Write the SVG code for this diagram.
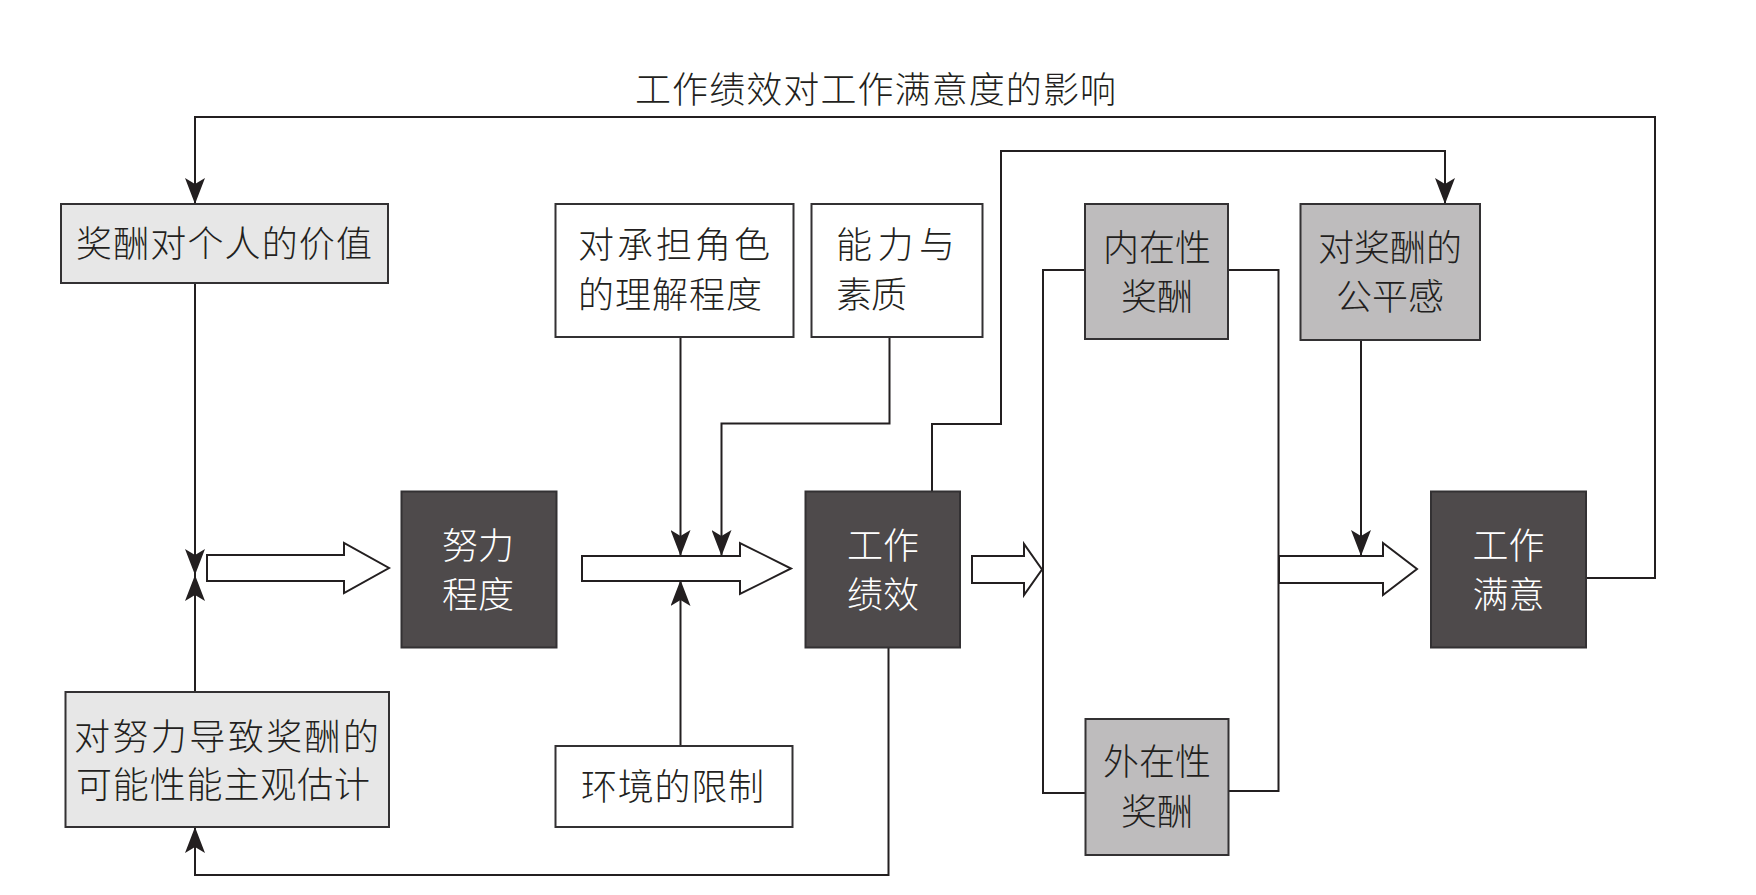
<svg xmlns="http://www.w3.org/2000/svg" width="1756" height="895" viewBox="0 0 1756 895">
<style>
  text { font-family: "Noto Sans CJK SC", "Noto Sans", sans-serif; font-size: 36px; font-weight: 300; fill: #231f20; }
  .c { text-anchor: middle; }
  .w { fill: #ffffff; }
  .box { stroke: #333133; stroke-width: 2; }
  .dark { fill: #4e4a4b; }
  .mid { fill: #bebcbd; }
  .light { fill: #e7e7e7; }
  .white { fill: #ffffff; }
  .line { fill: none; stroke: #231f20; stroke-width: 2; }
  .hollow { fill: #ffffff; stroke: #231f20; stroke-width: 2; stroke-linejoin: miter; }
</style>
<defs>
  <marker id="ah" markerUnits="userSpaceOnUse" viewBox="0 0 26 20" refX="26" refY="10" markerWidth="26" markerHeight="20" orient="auto">
    <path d="M0,0 L26,10 L0,20 L6,10 Z" fill="#231f20"/>
  </marker>
</defs>
<rect width="1756" height="895" fill="#ffffff"/>

<text id="title" x="635" y="103" textLength="481" lengthAdjust="spacing">工作绩效对工作满意度的影响</text>

<g id="connectors">
  <polyline class="line" points="1586,578 1655,578 1655,117 195,117 195,204" marker-end="url(#ah)"/>
  <polyline class="line" points="195,283 195,575" marker-end="url(#ah)"/>
  <polyline class="line" points="195,692 195,575" marker-end="url(#ah)"/>
  <polyline class="line" points="888.5,648 888.5,875 195,875 195,827" marker-end="url(#ah)"/>
  <polyline class="line" points="680.5,337 680.5,556" marker-end="url(#ah)"/>
  <polyline class="line" points="889.5,337 889.5,423.5 721.5,423.5 721.5,556" marker-end="url(#ah)"/>
  <polyline class="line" points="680.5,746 680.5,580" marker-end="url(#ah)"/>
  <polyline class="line" points="932,492 932,424 1001,424 1001,151 1445,151 1445,204" marker-end="url(#ah)"/>
  <polyline class="line" points="1361,340 1361,556" marker-end="url(#ah)"/>
  <polyline class="line" points="1085,270 1043,270 1043,793 1086,793"/>
  <polyline class="line" points="1228,270 1278.5,270 1278.5,791 1228,791"/>
  <polygon class="hollow" points="207,555 344,555 344,543 389,568 344,593 344,581 207,581"/>
  <polygon class="hollow" points="582,556 740,556 740,543 791,568.5 740,594 740,581 582,581"/>
  <polygon class="hollow" points="972,556 1024,556 1024,544 1042,569.5 1024,595 1024,583 972,583"/>
  <polygon class="hollow" points="1279,556 1383,556 1383,543 1417,569 1383,595 1383,583 1279,583"/>
</g>

<g id="n-value">
  <rect class="box light" x="61" y="204" width="327" height="79"/>
  <text x="76" y="257" textLength="296" lengthAdjust="spacing">奖酬对个人的价值</text>
</g>
<g id="n-expect">
  <rect class="box light" x="65.5" y="692" width="323.5" height="135"/>
  <text x="74" y="750" textLength="305" lengthAdjust="spacing">对努力导致奖酬的</text>
  <text x="76" y="798" textLength="294" lengthAdjust="spacing">可能性能主观估计</text>
</g>
<g id="n-effort">
  <rect class="box dark" x="401.5" y="491.5" width="155" height="156"/>
  <text class="c w" x="478" y="559">努力</text>
  <text class="c w" x="478" y="608">程度</text>
</g>
<g id="n-role">
  <rect class="box white" x="555.5" y="204" width="238" height="133"/>
  <text x="578" y="258" textLength="192" lengthAdjust="spacing">对承担角色</text>
  <text x="578" y="308" textLength="184" lengthAdjust="spacing">的理解程度</text>
</g>
<g id="n-ability">
  <rect class="box white" x="811.5" y="204" width="171" height="133"/>
  <text x="836" y="258" textLength="119" lengthAdjust="spacing">能力与</text>
  <text x="836" y="308" textLength="71" lengthAdjust="spacing">素质</text>
</g>
<g id="n-env">
  <rect class="box white" x="555.5" y="746" width="237" height="81"/>
  <text x="581" y="800" textLength="183" lengthAdjust="spacing">环境的限制</text>
</g>
<g id="n-perf">
  <rect class="box dark" x="805.5" y="491.5" width="154.5" height="156"/>
  <text class="c w" x="883" y="559">工作</text>
  <text class="c w" x="883" y="608">绩效</text>
</g>
<g id="n-intrinsic">
  <rect class="box mid" x="1085" y="204" width="143" height="135"/>
  <text class="c" x="1157" y="261">内在性</text>
  <text class="c" x="1157" y="310">奖酬</text>
</g>
<g id="n-extrinsic">
  <rect class="box mid" x="1085.5" y="719" width="143" height="136"/>
  <text class="c" x="1157" y="775">外在性</text>
  <text class="c" x="1157" y="825">奖酬</text>
</g>
<g id="n-equity">
  <rect class="box mid" x="1300.5" y="204" width="179.5" height="136"/>
  <text class="c" x="1390" y="261">对奖酬的</text>
  <text class="c" x="1390" y="310">公平感</text>
</g>
<g id="n-satisfaction">
  <rect class="box dark" x="1431" y="491.5" width="155" height="156"/>
  <text class="c w" x="1508.5" y="559">工作</text>
  <text class="c w" x="1508.5" y="608">满意</text>
</g>
</svg>
